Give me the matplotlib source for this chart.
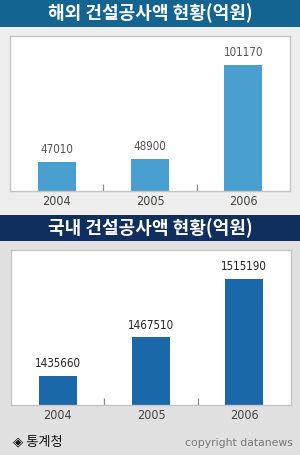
import matplotlib
matplotlib.use("Agg")
import matplotlib.pyplot as plt
from matplotlib.patches import Rectangle

W, H = 300, 455

years = ["2004", "2005", "2006"]
overseas = [47010, 48900, 101170]
domestic = [1435660, 1467510, 1515190]
title_overseas = "해외 건설공사액 현황(억원)"
title_domestic = "국내 건설공사액 현황(억원)"
source = "◈ 통계청"
credit = "copyright datanews"

KR = ["Noto Sans CJK KR", "DejaVu Sans"]
NUM = ["DejaVu Sans"]

fig = plt.figure(figsize=(W / 100, H / 100), dpi=100)
fig.patch.set_facecolor("#e1e1e1")


def rect(x0, y0, x1, y1, color):
    fig.add_artist(Rectangle((x0 / W, 1 - y1 / H), (x1 - x0) / W, (y1 - y0) / H,
                             transform=fig.transFigure, color=color, lw=0, zorder=0))


def axes(x0, y0, x1, y1):
    return fig.add_axes([x0 / W, 1 - y1 / H, (x1 - x0) / W, (y1 - y0) / H])


# backgrounds
rect(0, 0, 300, 215, "#eeeeee")
rect(0, 215, 300, 455, "#e1e1e1")
rect(0, 0, 300, 26.5, "#136491")
rect(0, 215, 300, 241, "#102e5e")

fig.text(0.5, 1 - 13.5 / H, title_overseas, color="white", fontsize=13, fontweight="bold",
         family=KR, ha="center", va="center")
fig.text(0.5, 1 - 228.5 / H, title_domestic, color="white", fontsize=13, fontweight="bold",
         family=KR, ha="center", va="center")


def panel(ax, values, ylim, color, labcolor):
    x = list(range(len(values)))
    ax.bar(x, values, width=0.41, color=color, zorder=2)
    ax.set_xlim(-0.5, 2.5)
    ax.set_ylim(*ylim)
    ax.set_yticks([])
    ax.set_xticks(x)
    ax.set_xticklabels(years, family=NUM, stretch="condensed", fontsize=9, color="#444444")
    ax.tick_params(axis="x", which="major", length=0, pad=3)
    ax.set_xticks([0.5, 1.5], minor=True)
    ax.tick_params(axis="x", which="minor", direction="in", length=5, width=0.9, color="#888888")
    for s in ax.spines.values():
        s.set_color("#c4c4c4")
        s.set_linewidth(1.0)
    ax.set_facecolor("white")
    for xi, v in zip(x, values):
        ax.annotate(str(v), (xi, v), xytext=(0, 4), textcoords="offset points",
                    ha="center", va="bottom", family=NUM, stretch="condensed",
                    fontsize=8.3, color=labcolor)


ax1 = axes(10, 36, 290, 191)
panel(ax1, overseas, (30800, 117400), "#49a0d0", "#555555")

ax2 = axes(11, 250, 291, 405)
panel(ax2, domestic, (1411900, 1539000), "#1a67aa", "#222222")

fig.text(13 / W, 1 - 442 / H, source, family=KR, fontsize=9.5, color="#111111",
         ha="left", va="center")
fig.text(293 / W, 1 - 443 / H, credit, family=["DejaVu Sans"], fontsize=7.8, color="#777777",
         ha="right", va="center")

fig.savefig("out.png", dpi=100, facecolor=fig.get_facecolor())
